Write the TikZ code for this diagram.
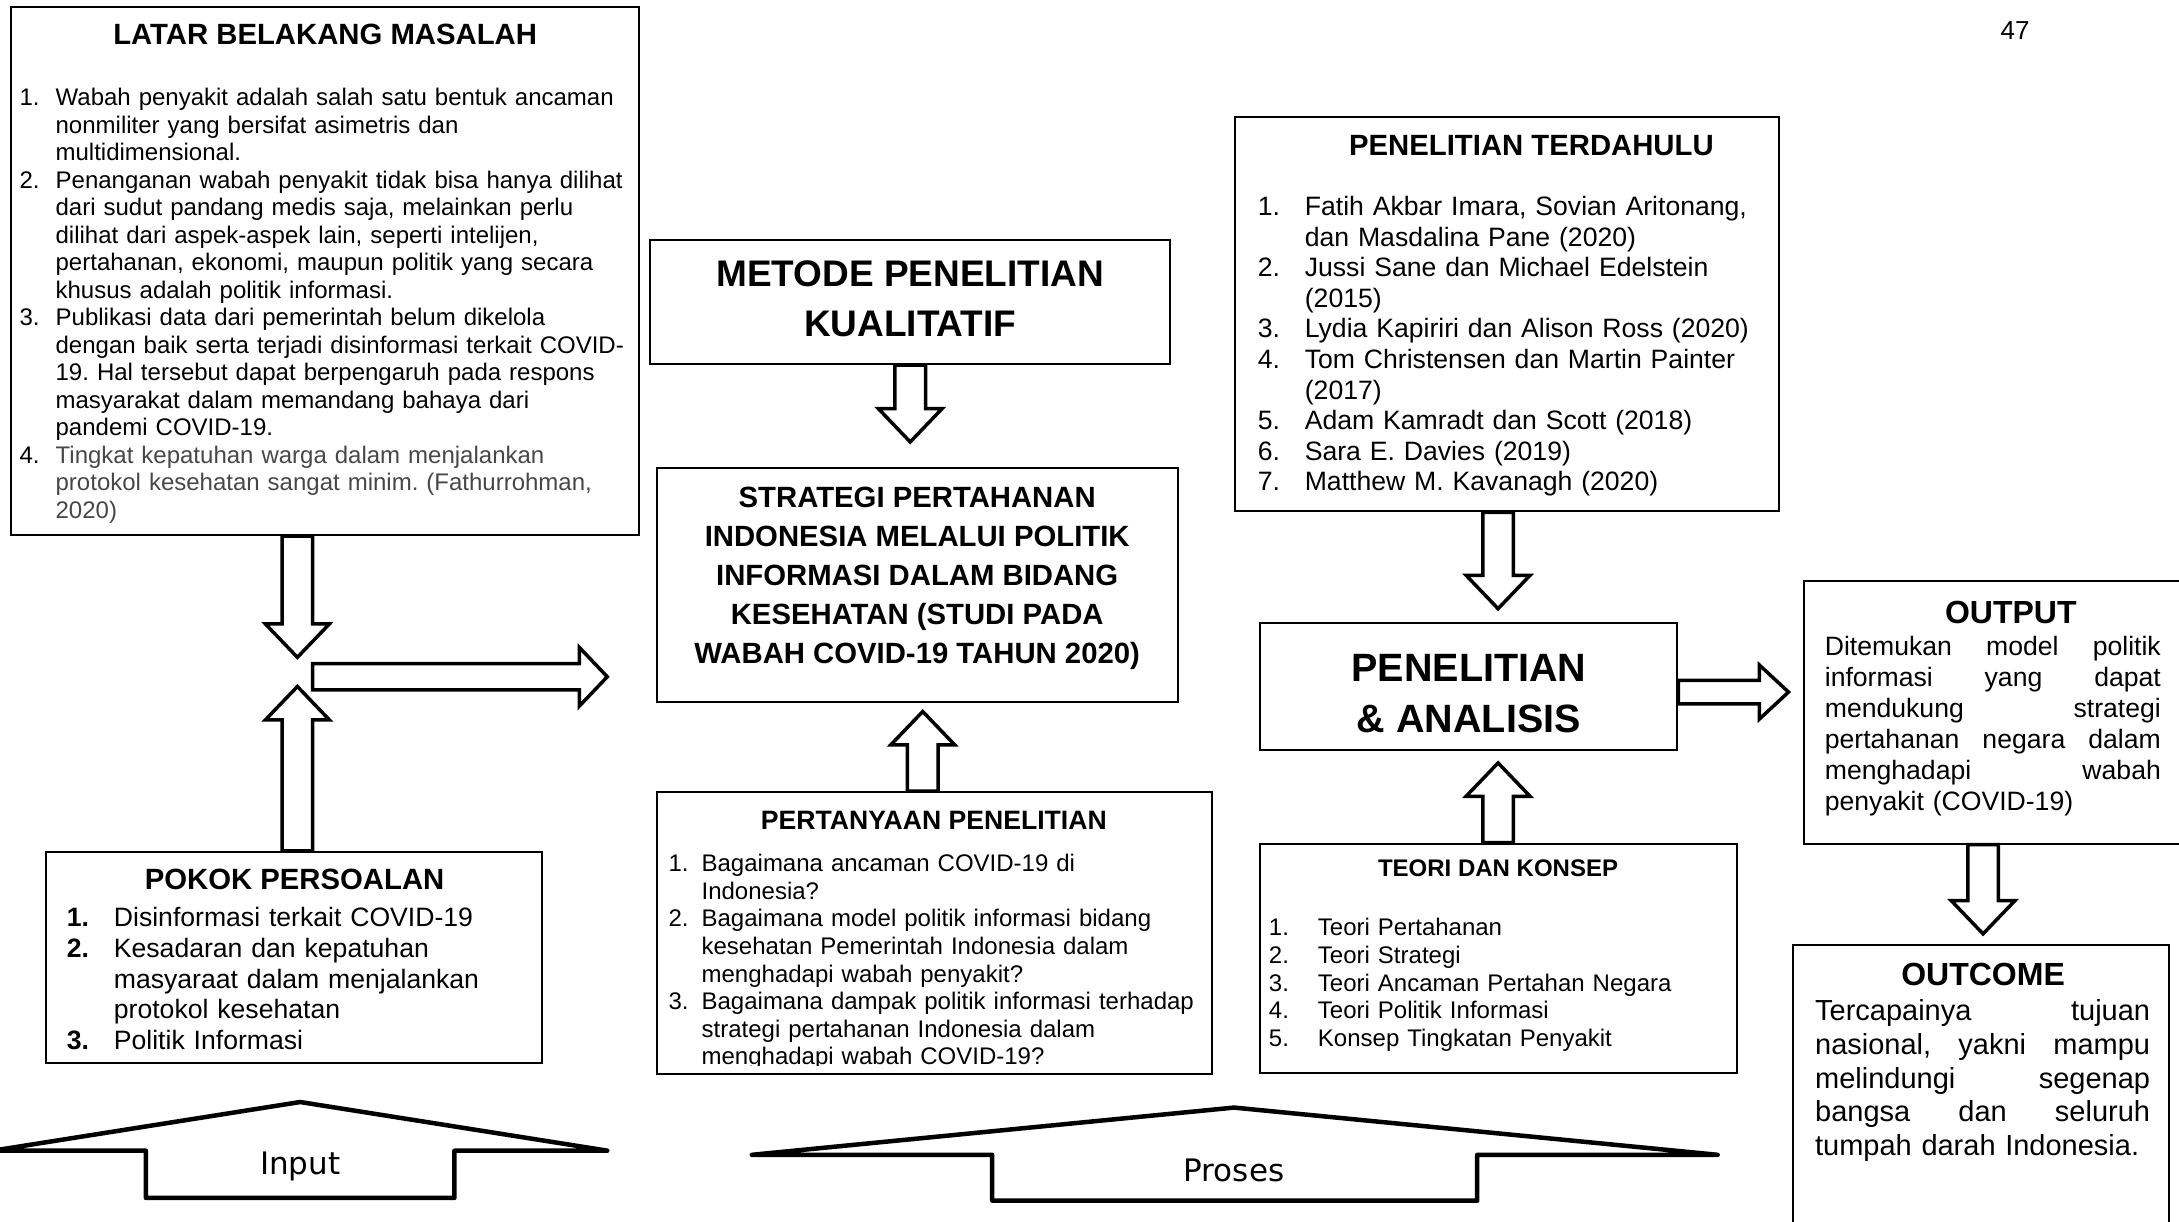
\documentclass[tikz,border=0pt]{standalone}
\usepackage{fontspec}
\setmainfont{Liberation Sans}
\newfontfamily\procfont{DejaVu Sans}
\usetikzlibrary{calc,fit}
\setlength{\parskip}{0pt}
\frenchspacing

% list helpers
\newlength\hng
\newlength\jw
\newcommand\li[2]{\hangindent=\hng\hangafter=1\noindent\makebox[\hng][l]{#1}#2\par}
\newcommand\fs[2]{\fontsize{#1}{#2}\selectfont}
\newcommand\jl[1]{\noindent\hbox to \jw{#1}\par}

% hollow block arrow: tail, tip, direction (ux,uy)
\def\aS{11}\def\aH{23}\def\aL{24}
\newcommand\blockarrow[4]{%
  \draw[barrow]
    ($(#1)+\aS*(#4,#3)$) --
    ($(#2)-\aL*(#3,#4)+\aS*(#4,#3)$) --
    ($(#2)-\aL*(#3,#4)+\aH*(#4,#3)$) --
    (#2) --
    ($(#2)-\aL*(#3,#4)-\aH*(#4,#3)$) --
    ($(#2)-\aL*(#3,#4)-\aS*(#4,#3)$) --
    ($(#1)-\aS*(#4,#3)$) -- cycle;}

\begin{document}
\begin{tikzpicture}[x=1.3897pt, y=-1.3897pt,
  box/.style={draw, line width=2pt, inner sep=0pt},
  barrow/.style={draw, line width=3.5pt, fill=white, line join=miter},
  bigarrow/.style={draw, line width=4.5pt, line join=round},
  ttl/.style={inner sep=0pt},
  lst/.style={inner sep=0pt, anchor=north west, align=left}]
\useasboundingbox (0,0) rectangle (1568,879);

% ---------- boxes ----------
\node[box, fit={(8,5) (460,385)}] (latar) {};
\node[box, fit={(468,173) (842,262)}] (metode) {};
\node[box, fit={(473,337) (848,505)}] (strategi) {};
\node[box, fit={(889,84) (1280,368)}] (terdahulu) {};
\node[box, fit={(907,448) (1207,540)}] (analisis) {};
\node[box, fit={(907,607) (1250,772)}] (teori) {};
\node[box, fit={(1298,418) (1572,607)}] (output) {};
\node[box, fit={(1290,680) (1561,886)}] (outcome) {};
\node[box, fit={(33,613) (390,765)}] (pokok) {};

% ---------- latar belakang ----------
\node[ttl, font=\bfseries\fs{29.3}{34}] (latarT) at (234,25) {LATAR BELAKANG MASALAH};
\node[lst, text width=640pt, font=\fs{24}{27.5}] (latarL) at (14,63.6) {\setlength\hng{36pt}%
\li{1.}{Wabah penyakit adalah salah satu bentuk ancaman\break nonmiliter yang bersifat asimetris dan\break multidimensional.}
\li{2.}{Penanganan wabah penyakit tidak bisa hanya dilihat\break dari sudut pandang medis saja, melainkan perlu\break dilihat dari aspek-aspek lain, seperti intelijen,\break pertahanan, ekonomi, maupun politik yang secara\break khusus adalah politik informasi.}
\li{3.}{Publikasi data dari pemerintah belum dikelola\break dengan baik serta terjadi disinformasi terkait COVID-\break 19. Hal tersebut dapat berpengaruh pada respons\break masyarakat dalam memandang bahaya dari\break pandemi COVID-19.}
\li{4.}{\color{black!72}Tingkat kepatuhan warga dalam menjalankan\break protokol kesehatan sangat minim. (Fathurrohman,\break 2020)}};

% ---------- metode ----------
\node[ttl, align=center, font=\bfseries\fs{37}{50}] (metodeT) at (655,215) {METODE PENELITIAN\\KUALITATIF};

% ---------- strategi ----------
\node[ttl, align=center, font=\bfseries\fs{29.3}{39}] (strategiT) at (660,416)
 {STRATEGI PERTAHANAN\\INDONESIA MELALUI POLITIK\\INFORMASI DALAM BIDANG\\KESEHATAN (STUDI PADA\\WABAH COVID-19 TAHUN 2020)};

% ---------- pertanyaan penelitian ----------
\node[ttl, font=\bfseries\fs{26.6}{31}] (tanyaT) at (672,590) {PERTANYAAN PENELITIAN};
\begin{scope}
\clip (473,570) rectangle (872,767);
\node[lst, text width=560pt, font=\fs{24}{27.6}] (tanyaL) at (481,614.6) {\setlength\hng{33pt}%
\li{1.}{Bagaimana ancaman COVID-19 di\break Indonesia?}
\li{2.}{Bagaimana model politik informasi bidang\break kesehatan Pemerintah Indonesia dalam\break menghadapi wabah penyakit?}
\li{3.}{Bagaimana dampak politik informasi terhadap\break strategi pertahanan Indonesia dalam\break menghadapi wabah COVID-19?}};
\end{scope}
\node[box, fit={(473,570) (872,773)}] (tanya) {};

% ---------- penelitian terdahulu ----------
\node[ttl, font=\bfseries\fs{29.3}{34}] (terdahuluT) at (1102,105) {PENELITIAN TERDAHULU};
\node[lst, text width=520pt, font=\fs{26.6}{30.6}] (terdahuluL) at (905,141) {\setlength\hng{47pt}%
\li{1.}{Fatih Akbar Imara, Sovian Aritonang,\break dan Masdalina Pane (2020)}
\li{2.}{Jussi Sane dan Michael Edelstein\break (2015)}
\li{3.}{Lydia Kapiriri dan Alison Ross (2020)}
\li{4.}{Tom Christensen dan Martin Painter\break (2017)}
\li{5.}{Adam Kamradt dan Scott (2018)}
\li{6.}{Sara E. Davies (2019)}
\li{7.}{Matthew M. Kavanagh (2020)}};

% ---------- penelitian & analisis ----------
\node[ttl, align=center, font=\bfseries\fs{39.5}{51.4}] (analisisT) at (1057,499) {PENELITIAN\\\& ANALISIS};

% ---------- teori dan konsep ----------
\node[ttl, font=\bfseries\fs{24}{28}] (teoriT) at (1078,625) {TEORI DAN KONSEP};
\node[lst, text width=460pt, font=\fs{24}{27.8}] (teoriL) at (913,660.5) {\setlength\hng{49pt}%
\li{1.}{Teori Pertahanan}
\li{2.}{Teori Strategi}
\li{3.}{Teori Ancaman Pertahan Negara}
\li{4.}{Teori Politik Informasi}
\li{5.}{Konsep Tingkatan Penyakit}};

% ---------- output ----------
\node[ttl, font=\bfseries\fs{32}{36}] (outputT) at (1447,441) {OUTPUT};
\node[lst, text width=336pt, font=\fs{26.6}{30.9}] (outputL) at (1313,458) {\setlength\jw{336pt}%
\jl{Ditemukan\hfill model\hfill politik}
\jl{informasi\hfill yang\hfill dapat}
\jl{mendukung\hfill strategi}
\jl{pertahanan\hfill negara\hfill dalam}
\jl{menghadapi\hfill wabah}
\noindent penyakit (COVID-19)};

% ---------- outcome ----------
\node[ttl, font=\bfseries\fs{32}{36}] (outcomeT) at (1427,701) {OUTCOME};
\node[lst, text width=335pt, font=\fs{29}{33.7}] (outcomeL) at (1306,719.3) {\setlength\jw{335pt}%
\jl{Tercapainya\hfill tujuan}
\jl{nasional,\hfill yakni\hfill mampu}
\jl{melindungi\hfill segenap}
\jl{bangsa\hfill dan\hfill seluruh}
\noindent tumpah darah Indonesia.};

% ---------- pokok persoalan ----------
\node[ttl, font=\bfseries\fs{29.3}{34}] (pokokT) at (212,633) {POKOK PERSOALAN};
\node[lst, text width=480pt, font=\fs{26.6}{30.6}] (pokokL) at (48,653) {\setlength\hng{47pt}%
\li{\textbf{1.}}{Disinformasi terkait COVID-19}
\li{\textbf{2.}}{Kesadaran dan kepatuhan\break masyaraat dalam menjalankan\break protokol kesehatan}
\li{\textbf{3.}}{Politik Informasi}};

% ---------- page number ----------
\node[ttl, font=\fs{26}{30}] (page) at (1450,22) {47};

% ---------- block arrows ----------
\coordinate (tipA) at (214,473);
\coordinate (tailA) at (tipA |- latar.south);
\blockarrow{tailA}{tipA}{0}{1}
\coordinate (tipB) at (214,494);
\coordinate (tailB) at (tipB |- pokok.north);
\blockarrow{tailB}{tipB}{0}{-1}
\coordinate (tipD) at (655,318);
\coordinate (tailD) at (tipD |- metode.south);
\blockarrow{tailD}{tipD}{0}{1}
\coordinate (tipE) at (664,512);
\coordinate (tailE) at (tipE |- tanya.north);
\blockarrow{tailE}{tipE}{0}{-1}
\coordinate (tipF) at (1078,438);
\coordinate (tailF) at (tipF |- terdahulu.south);
\blockarrow{tailF}{tipF}{0}{1}
\coordinate (tipG) at (1078,549);
\coordinate (tailG) at (tipG |- teori.north);
\blockarrow{tailG}{tipG}{0}{-1}
\coordinate (tipI) at (1427,672);
\coordinate (tailI) at (tipI |- output.south);
\blockarrow{tailI}{tipI}{0}{1}

\def\aS{9.5}\def\aH{21}\def\aL{20}
\coordinate (tailC) at (225,487);
\coordinate (tipC) at (437,487);
\blockarrow{tailC}{tipC}{1}{0}
\def\aS{8.5}\def\aH{19.5}\def\aL{21}
\coordinate (tipH) at (1287,498);
\coordinate (tailH) at (analisis.east |- tipH);
\blockarrow{tailH}{tipH}{1}{0}

% ---------- input / proses banners ----------
\draw[bigarrow] (-5,828) -- (216,793) -- (437,828) -- (327,828) -- (327,862) -- (105,862) -- (105,828) -- cycle;
\node[ttl, font=\procfont\fs{31}{36}] (input) at (216,839) {Input};
\draw[bigarrow] (541,831) -- (888,797) -- (1236,831) -- (1063,831) -- (1063,864) -- (714,864) -- (714,831) -- cycle;
\node[ttl, font=\procfont\fs{31}{36}] (proses) at (888,842) {Proses};
\end{tikzpicture}
\end{document}
